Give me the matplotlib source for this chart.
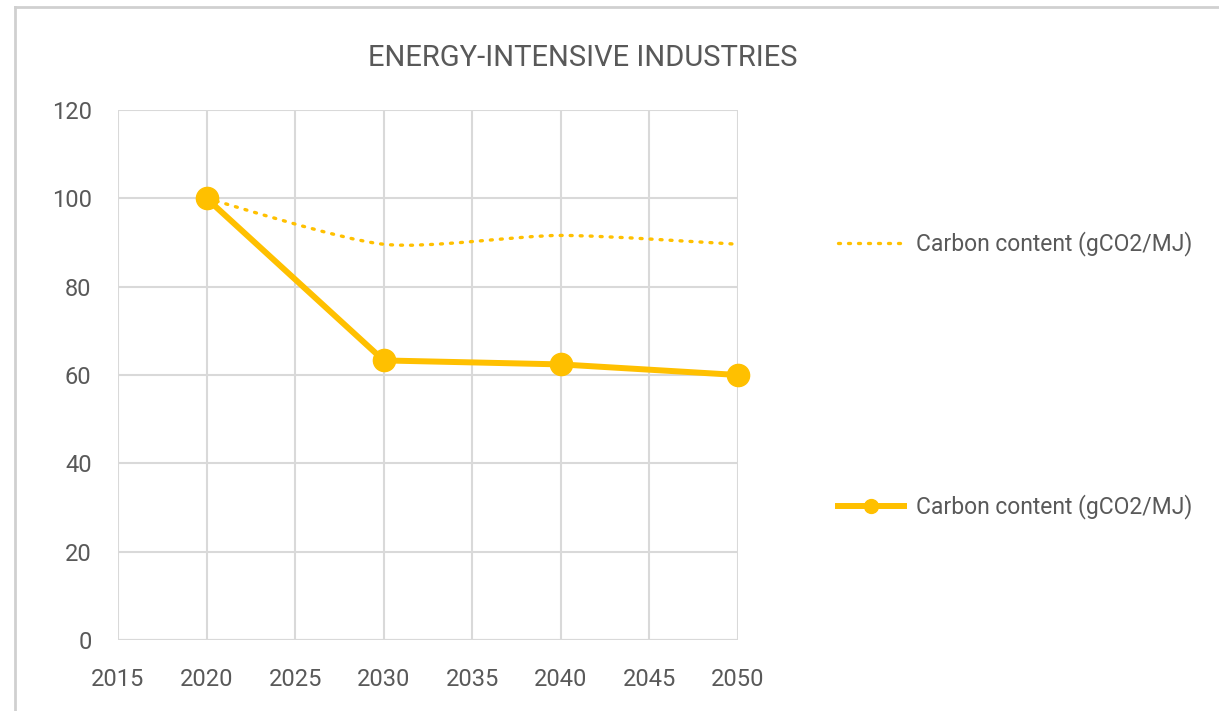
import matplotlib.pyplot as plt
from matplotlib.lines import Line2D
from matplotlib.path import Path
from matplotlib.patches import PathPatch
import matplotlib.font_manager as fm

years = [2020, 2030, 2040, 2050]
carbon_dotted = [100, 89.6, 91.6, 89.6]
carbon_solid = [100, 63.3, 62.4, 60.0]
legend_label = "Carbon content (gCO2/MJ)"
title = "ENERGY-INTENSIVE INDUSTRIES"

names = {f.name for f in fm.fontManager.ttflist}
font = [n for n in ["Liberation Sans Narrow", "Roboto", "DejaVu Sans"] if n in names]
plt.rcParams['font.family'] = font + ['DejaVu Sans']

gold = "#FFC000"
text_gray = "#595959"
grid_gray = "#D9D9D9"


def smooth_path(xs, ys, t=1 / 6):
    # Catmull-Rom style bezier through the points, like a smoothed line
    verts = [(xs[0], ys[0])]
    codes = [Path.MOVETO]
    n = len(xs)
    for i in range(n - 1):
        x0, y0 = (xs[i - 1], ys[i - 1]) if i > 0 else (xs[i], ys[i])
        x1, y1 = xs[i], ys[i]
        x2, y2 = xs[i + 1], ys[i + 1]
        x3, y3 = (xs[i + 2], ys[i + 2]) if i + 2 < n else (x2, y2)
        c1 = (x1 + (x2 - x0) * t, y1 + (y2 - y0) * t)
        c2 = (x2 - (x3 - x1) * t, y2 - (y3 - y1) * t)
        verts += [c1, c2, (x2, y2)]
        codes += [Path.CURVE4] * 3
    return Path(verts, codes)


fig = plt.figure(figsize=(12.19, 7.11), dpi=100)
ax = fig.add_axes([118 / 1219, 1 - 640 / 711, 620 / 1219, 530 / 711])

dots = (0, (0.6, 2.4))
ax.add_patch(PathPatch(smooth_path(years, carbon_dotted, t=1 / 8), fill=False,
                       edgecolor=gold, lw=2.4, linestyle=dots,
                       capstyle='round', zorder=3))
ax.plot(years, carbon_solid, color=gold, lw=4.3, marker='o', markersize=16,
        solid_capstyle='round', clip_on=False, zorder=4)

ax.set_xlim(2015, 2050)
ax.set_ylim(0, 120)
ax.set_xticks(range(2015, 2051, 5))
ax.set_yticks(range(0, 121, 20))
ax.grid(True, color=grid_gray, lw=1.5)
ax.set_axisbelow(True)
for s in ax.spines.values():
    s.set_visible(False)
ax.axhline(0, color=grid_gray, lw=1.5, zorder=1)
ax.tick_params(length=0, labelsize=17, labelcolor=text_gray)
ax.tick_params(axis='y', pad=19)
ax.tick_params(axis='x', pad=20)

fig.text(583 / 1219, 1 - 58 / 711, title, ha='center', va='center',
         fontsize=21, color=text_gray)

h1 = Line2D([], [], color=gold, lw=2.4, linestyle=dots,
            dash_capstyle='round')
h2 = Line2D([], [], color=gold, lw=4.3, marker='o', markersize=10)
for ypix, h in [(244, h1), (507, h2)]:
    fig.legend([h], [legend_label], loc='center left',
               bbox_to_anchor=(838 / 1219, 1 - ypix / 711), frameon=False,
               fontsize=16.5, labelcolor=text_gray, handlelength=2.9,
               handletextpad=0.5, borderpad=0, borderaxespad=0)

# chart frame (top and left edges)
fig.add_artist(Line2D([15 / 1219, 1], [1 - 7 / 711, 1 - 7 / 711],
                      color="#D0D0D0", lw=2))
fig.add_artist(Line2D([15 / 1219, 15 / 1219], [0, 1 - 7 / 711],
                      color="#D0D0D0", lw=2))

fig.savefig("out.png", dpi=100, facecolor='white')
